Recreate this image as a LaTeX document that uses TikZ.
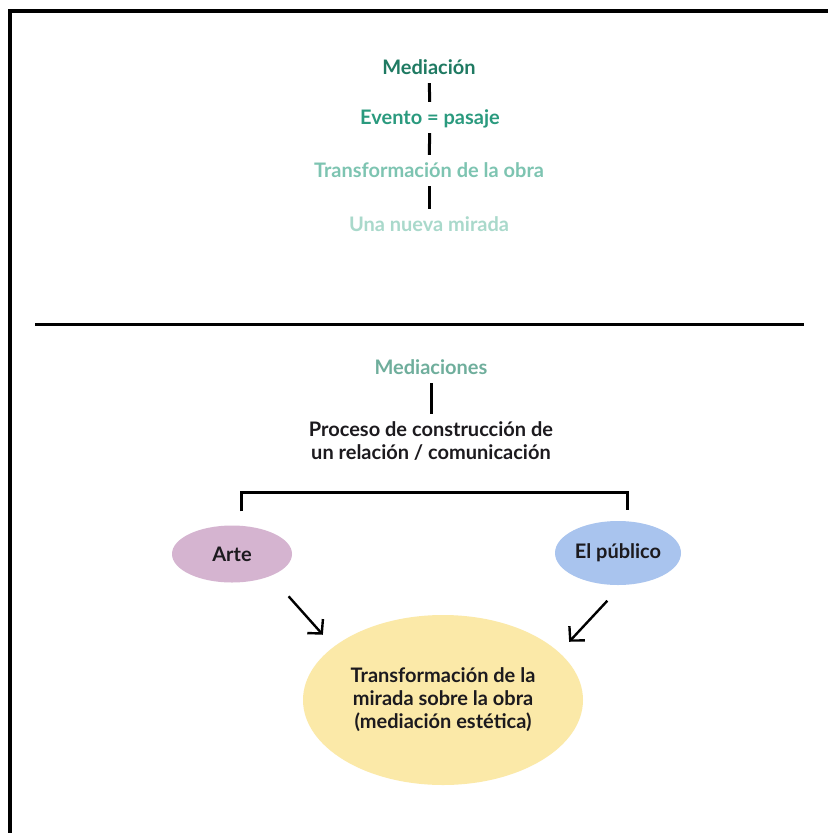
\documentclass[tikz,border=0pt]{standalone}
\usepackage{fontspec}
\setmainfont{Lato}
\usetikzlibrary{shapes.geometric,arrows.meta}

\definecolor{tealA}{HTML}{1F7A62}
\definecolor{tealB}{HTML}{2A9A7E}
\definecolor{tealC}{HTML}{7DC4B1}
\definecolor{tealD}{HTML}{A9D9CB}
\definecolor{tealE}{HTML}{6FAE9C}
\definecolor{inkdark}{HTML}{1C1A1E}
\definecolor{artefill}{HTML}{D5B4D0}
\definecolor{pubfill}{HTML}{A9C4EE}
\definecolor{yelfill}{HTML}{FBE9A8}

\tikzset{
  label/.style={inner sep=0pt, text height=18pt, text depth=4pt, font=\fontsize{20}{23}\selectfont},
  head/.style={label, font=\fontsize{20}{23}\selectfont\bfseries},
  link/.style={line width=3pt, draw=black},
  stem/.style={link, shorten <=5pt, shorten >=4pt},
  arr/.style={line width=2.4pt, -{Straight Barb[length=10pt,width=21pt,line width=2.4pt]}},
  blob/.style={ellipse, inner sep=0pt, text=inkdark, align=center,
               font=\fontsize{20}{23}\selectfont\bfseries},
}

\begin{document}
\begin{tikzpicture}[x=1pt, y=-1pt]
\useasboundingbox (0,0) rectangle (828,833);
\fill[white] (0,0) rectangle (828,833);

% frame and separator
\draw[line width=4pt, line join=miter] (10,833) -- (10,11) -- (828,11);
\draw[line width=3pt] (35,324) -- (804,324);

% upper chain
\node[head, text=tealA] (m1) at (429,67) {Mediación};
\node[head, text=tealB] (m2) at (430,117) {Evento = pasaje};
\node[head, text=tealC] (m3) at (429,170) {Transformación de la obra};
\node[head, text=tealD] (m4) at (429,224) {Una nueva mirada};
\draw[stem] (m1) -- (m2);
\draw[stem] (m2) -- (m3);
\draw[stem] (m3) -- (m4);

% lower diagram
\node[head, text=tealE] (med) at (431,367) {Mediaciones};
\node[inner sep=0pt, align=center, text=inkdark, font=\fontsize{20}{23}\selectfont\bfseries]
  (proc) at (431,441) {Proceso de construcción de\\un relación / comunicación};
\draw[link, shorten <=5pt, shorten >=7pt] (med) -- (proc.north -| med);

\node[blob, fill=artefill, minimum width=120pt, minimum height=57pt] (arte) at (232,554) {Arte};
\node[blob, fill=pubfill, minimum width=126pt, minimum height=64pt] (pub) at (618,553) {El público};
\node[blob, fill=yelfill, minimum width=280pt, minimum height=170pt] (yel) at (443,700)
  {Transformación de la\\mirada sobre la obra\\(mediación estética)};

\draw[link] ([shift={(9,-14)}]arte.north) -- ++(0,-19) -| ([shift={(9,-11)}]pub.north);

\draw[arr] ([shift={(14,22)}]arte.south east) -- ([shift={(-21,-5)}]yel.north west);
\draw[arr] ([shift={(34,25)}]pub.south west) -- ([shift={(27,2)}]yel.north east);
\end{tikzpicture}
\end{document}
